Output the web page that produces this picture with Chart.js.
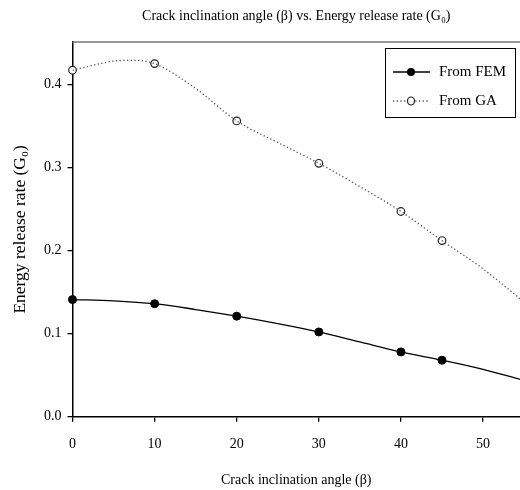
<!DOCTYPE html>
<html>
<head>
<meta charset="utf-8">
<script src="https://cdn.jsdelivr.net/npm/chart.js@4/dist/chart.umd.min.js"></script>
<style>
  html, body { margin: 0; padding: 0; background: #fff; }
  canvas { display: block; }
</style>
</head>
<body>
<canvas id="c" width="520" height="490"></canvas>
<script>
// ---- data ----
const markerAngles = [0, 10, 20, 30, 40, 45];
const femValues = [0.141, 0.136, 0.121, 0.102, 0.078, 0.068];
const gaValues = [0.417, 0.425, 0.356, 0.305, 0.247, 0.212];

const femCurveAngles = [0, 5, 10, 15, 20, 25, 30, 35, 40, 45, 50, 54.5];
const femCurveValues = [0.141, 0.1395, 0.136, 0.129, 0.121, 0.112, 0.102, 0.090, 0.078, 0.068, 0.057, 0.045];

const gaCurveAngles = [0, 2.5, 5, 7.5, 10, 15, 20, 25, 30, 35, 40, 45, 50, 54.5];
const gaCurveValues = [0.417, 0.423, 0.428, 0.429, 0.425, 0.395, 0.356, 0.330, 0.305, 0.277, 0.247, 0.212, 0.178, 0.142];

const xTicks = [0, 10, 20, 30, 40, 50];
const yTicks = [0.0, 0.1, 0.2, 0.3, 0.4];
const seriesNames = ['From FEM', 'From GA'];

const titleText = 'Crack inclination angle (\u03B2) vs. Energy release rate (G\u2080)';
const xTitle = 'Crack inclination angle (\u03B2)';
const yTitle = 'Energy release rate (G\u2080)';

const FONT = '"Liberation Serif", "Times New Roman", serif';

const pts = (xs, ys) => xs.map((x, i) => ({ x: x, y: ys[i] }));

// legend + top frame line plugin
const framePlugin = {
  id: 'frameAndLegend',
  afterDraw(chart) {
    const ctx = chart.ctx;
    const a = chart.chartArea;
    ctx.save();
    // top border
    ctx.strokeStyle = '#777';
    ctx.lineWidth = 1.5;
    ctx.beginPath();
    ctx.moveTo(a.left, a.top);
    ctx.lineTo(a.right, a.top);
    ctx.stroke();

    // legend box
    const bx = 385.5, by = 48.5, bw = 130, bh = 69;
    ctx.strokeStyle = '#000';
    ctx.lineWidth = 1;
    ctx.fillStyle = '#fff';
    ctx.fillRect(bx, by, bw, bh);
    ctx.strokeRect(bx, by, bw, bh);

    const rows = [72, 101];
    // FEM entry
    ctx.setLineDash([]);
    ctx.lineWidth = 1.3;
    ctx.strokeStyle = '#000';
    ctx.beginPath(); ctx.moveTo(393, rows[0]); ctx.lineTo(430, rows[0]); ctx.stroke();
    ctx.fillStyle = '#000';
    ctx.beginPath(); ctx.arc(411, rows[0], 4, 0, Math.PI * 2); ctx.fill();
    // GA entry
    ctx.strokeStyle = '#555';
    ctx.lineWidth = 1.3;
    ctx.setLineDash([1.3, 2.4]);
    ctx.beginPath(); ctx.moveTo(393, rows[1]); ctx.lineTo(430, rows[1]); ctx.stroke();
    ctx.setLineDash([]);
    ctx.fillStyle = '#fff';
    ctx.strokeStyle = '#222';
    ctx.lineWidth = 1.2;
    ctx.beginPath(); ctx.ellipse(411, rows[1], 3.5, 4, 0, 0, Math.PI * 2); ctx.fill(); ctx.stroke();

    ctx.fillStyle = '#000';
    ctx.font = '15px ' + FONT;
    ctx.textAlign = 'left';
    ctx.textBaseline = 'middle';
    ctx.fillText(seriesNames[0], 439, rows[0]);
    ctx.fillText(seriesNames[1], 439, rows[1]);
    ctx.restore();
  }
};

new Chart(document.getElementById('c'), {
  type: 'line',
  data: {
    datasets: [
      {
        label: seriesNames[0] + ' curve',
        data: pts(femCurveAngles, femCurveValues),
        borderColor: '#000',
        borderWidth: 1.3,
        pointRadius: 0,
        cubicInterpolationMode: 'monotone',
        fill: false
      },
      {
        label: seriesNames[1] + ' curve',
        data: pts(gaCurveAngles, gaCurveValues),
        borderColor: '#555',
        borderWidth: 1.3,
        borderDash: [1.3, 2.4],
        pointRadius: 0,
        cubicInterpolationMode: 'monotone',
        fill: false
      },
      {
        label: seriesNames[0],
        data: pts(markerAngles, femValues),
        showLine: false,
        pointRadius: 4,
        pointBackgroundColor: '#000',
        pointBorderColor: '#000',
        pointBorderWidth: 1,
        clip: false
      },
      {
        label: seriesNames[1],
        data: pts(markerAngles, gaValues),
        showLine: false,
        pointRadius: 3.8,
        pointBackgroundColor: '#fff',
        pointBorderColor: '#222',
        pointBorderWidth: 1.2,
        clip: false
      }
    ]
  },
  options: {
    responsive: false,
    animation: false,
    events: [],
    layout: { autoPadding: false, padding: { left: 0, right: 0, top: 0, bottom: 0 } },
    plugins: {
      legend: { display: false },
      tooltip: { enabled: false },
      title: {
        display: true,
        text: titleText,
        fullSize: false,
        color: '#000',
        font: { family: FONT, size: 14, weight: 'normal' },
        padding: { top: 8, bottom: 17.2 }
      }
    },
    scales: {
      x: {
        type: 'linear',
        min: 0,
        max: 54.5,
        afterBuildTicks: s => { s.ticks = xTicks.map(v => ({ value: v })); },
        afterFit: s => { s.height = 73.3; s.paddingRight = 0; s.paddingLeft = 0; },
        ticks: {
          color: '#000',
          font: { family: FONT, size: 14 },
          padding: 14,
          maxRotation: 0,
          callback: v => String(v)
        },
        grid: { drawOnChartArea: false, drawTicks: true, tickLength: 5, color: '#000', lineWidth: 1.3 },
        border: { display: true, color: '#000', width: 1.5 },
        title: {
          display: true,
          text: xTitle,
          color: '#000',
          font: { family: FONT, size: 14 },
          padding: { top: 0, bottom: 1.6 }
        }
      },
      y: {
        type: 'linear',
        min: 0,
        max: 0.451,
        afterBuildTicks: s => { s.ticks = yTicks.map(v => ({ value: v })); },
        afterFit: s => { s.width = 72.5; },
        ticks: {
          color: '#000',
          font: { family: FONT, size: 14 },
          padding: 6,
          callback: v => Number(v).toFixed(1)
        },
        grid: { drawOnChartArea: false, drawTicks: true, tickLength: 5, color: '#000', lineWidth: 1.3 },
        border: { display: true, color: '#000', width: 1.5 },
        title: {
          display: true,
          text: yTitle,
          color: '#000',
          font: { family: FONT, size: 17.5 },
          padding: { top: 10, bottom: 0 }
        }
      }
    }
  },
  plugins: [framePlugin]
});
</script>
</body>
</html>
